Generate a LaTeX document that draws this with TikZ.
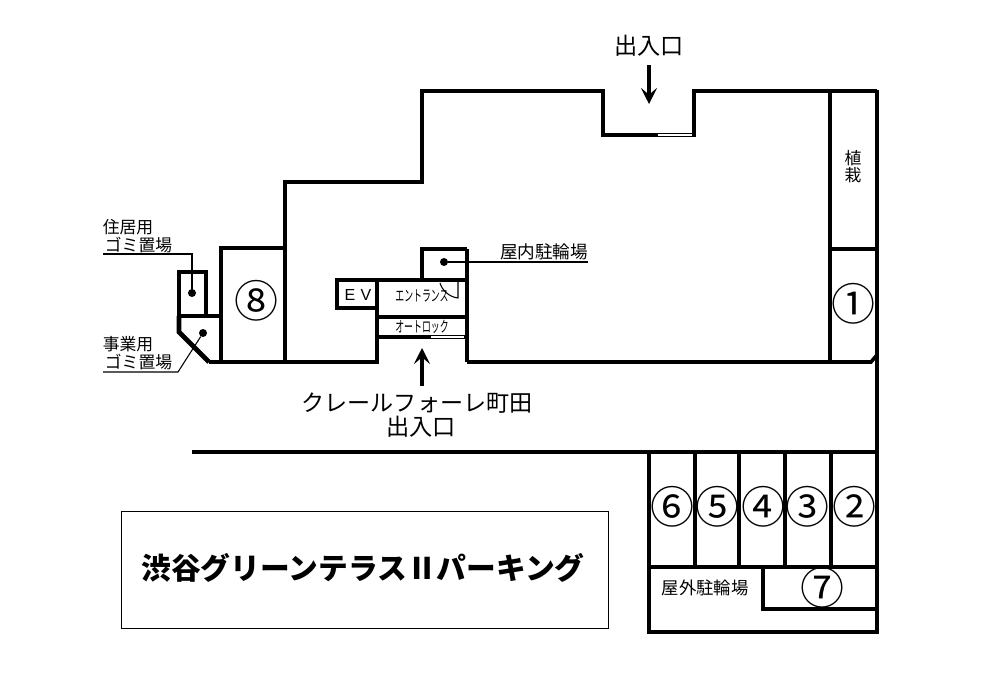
\documentclass[tikz,border=0pt]{standalone}
\usepackage{fontspec}
\setmainfont{Noto Sans CJK JP}
\newfontfamily\latinf{Liberation Sans}
\newcommand{\pxfont}[1]{\fontsize{#1}{#1}\selectfont}
\tikzset{
  wall/.style={line width=3.6pt,line join=miter,line cap=butt},
  midwall/.style={line width=2.7pt,line join=miter,line cap=butt},
  leader/.style={line width=0.8pt},
  gap/.style={line width=1.4pt,white},
  spot/.style={circle,fill=black,inner sep=0pt,minimum size=6pt},
  lbl/.style={inner sep=0pt,font=\pxfont{12.6}},
  big/.style={inner sep=0pt,font=\pxfont{17.3}},
  num/.style={inner sep=0pt,font=\pxfont{33}},
  ar/.style={line width=2.6pt,-{Stealth[length=12pt,width=12pt,inset=5pt]}}
}
\usetikzlibrary{arrows.meta}
\begin{document}
\begin{tikzpicture}[x=0.75pt,y=-0.75pt]
\useasboundingbox (0,0) rectangle (1000,700);
\fill[white] (0,0) rectangle (1000,700);
% building outline
\draw[wall] (192,452) -- (877,452);
\draw[wall] (467,249) -- (467,362);
\draw[midwall] (467,362) -- (871,362) -- (877,355);
\draw[wall] (209,362) -- (377,362) -- (377,280) -- (337,280) -- (337,308) -- (377,308);
\draw[wall] (422,280) -- (422,249) -- (467,249);
\draw[wall] (377,280) -- (467,280);
\draw[midwall] (377,317) -- (467,317);
\draw[wall] (377,337) -- (467,337);
\draw[gap] (431,337) -- (464,337);
% upper outline
\draw[wall] (285,362) -- (285,182) -- (422,182) -- (422,91) -- (603,91) -- (603,135) -- (694,135) -- (694,91) -- (877,91);
\draw[gap] (658,135) -- (692,135);
\draw[midwall] (877,89.5) -- (877,634);
\draw[midwall] (830,91) -- (830,362);
\draw[wall] (830,249) -- (877,249);
% bay 8 and refuse areas
\draw[wall] (221,362) -- (221,248) -- (285,248);
\draw[wall] (179,316) -- (179,272) -- (206,272) -- (206,316);
\draw[midwall] (179,316) -- (221,316);
\draw[wall] (179,316) -- (179,332) -- (209,362);
% car bays
\draw[midwall] (649,452) -- (649,632) -- (877,632);
\foreach \vx in {695,739,785,831} \draw[midwall] (\vx,452) -- (\vx,567);
\draw[wall] (649,567) -- (877,567);
\draw[midwall] (763,567) -- (763,609) -- (877,609);
% door swing
\draw[line width=0.8pt] (440,280.5) -- (458,280.5) -- (458,298) .. controls (449,297) and (442,290) .. (440,283);
% title frame
\draw[line width=0.6pt] (121,511) rectangle (608,628);
% dots
\node[spot] (dotA) at (192,293) {};
\node[spot] (dotB) at (203,333) {};
\node[spot] (dotC) at (444,262) {};
% labels
\node[lbl] (homeA) at (128,227) {住居用};
\node[lbl] (homeB) at (138.5,245) {ゴミ置場};
\node[lbl] (bizA) at (128,344) {事業用};
\node[lbl] (bizB) at (138.5,362) {ゴミ置場};
\node[lbl,font=\pxfont{13.2}] (indoor) at (544,252) {屋内駐輪場};
\node[lbl,font=\pxfont{13}] (outdoor) at (705,588) {屋外駐輪場};
\node[lbl,font=\latinf\pxfont{12}] (ev) at (358,295) {E\,\,V};
\node[lbl,font=\pxfont{11.5}] (ent) at (422,296) {\scalebox{.58}[1]{エントランス}};
\node[lbl,font=\pxfont{11.5}] (lock) at (422,327) {\scalebox{.58}[1]{オートロック}};
\node[lbl,font=\pxfont{12.6},align=center] (plant) at (853,167) {植\\栽};
\node[big,font=\pxfont{17.4}] (gate) at (649,46) {出入口};
\node[big] (name) at (417,403) {クレールフォーレ町田};
\node[big,font=\pxfont{17.4}] (gateB) at (421,427) {出入口};
\node[inner sep=0pt,font=\pxfont{22.3}\bfseries] (title) at (363,568) {渋谷グリーンテラスⅡパーキング};
% numbers
\node[num] (n8) at (256,301) {⑧};
\node[num] (n1) at (853,304) {①};
\node[num] (n6) at (672,507) {⑥};
\node[num] (n5) at (717,507) {⑤};
\node[num] (n4) at (763,507) {④};
\node[num] (n3) at (807,507) {③};
\node[num] (n2) at (854,507) {②};
\node[num] (n7) at (822,588) {⑦};
% leaders
\coordinate (la) at (103,254);
\coordinate (lb) at (192,254);
\coordinate (lc) at (103,372);
\coordinate (ld) at (178,372);
\coordinate (le) at (588,262);
\draw[leader] (la) -- (lb) -- (dotA);
\draw[leader] (lc) -- (ld) -- (dotB);
\draw[leader] (dotC) -- (le);
% arrows
\coordinate (a1) at (649,65);
\coordinate (a2) at (649,104);
\coordinate (a3) at (422,386);
\coordinate (a4) at (422,348);
\draw[ar] (a1) -- (a2);
\draw[ar] (a3) -- (a4);
\end{tikzpicture}
\end{document}
